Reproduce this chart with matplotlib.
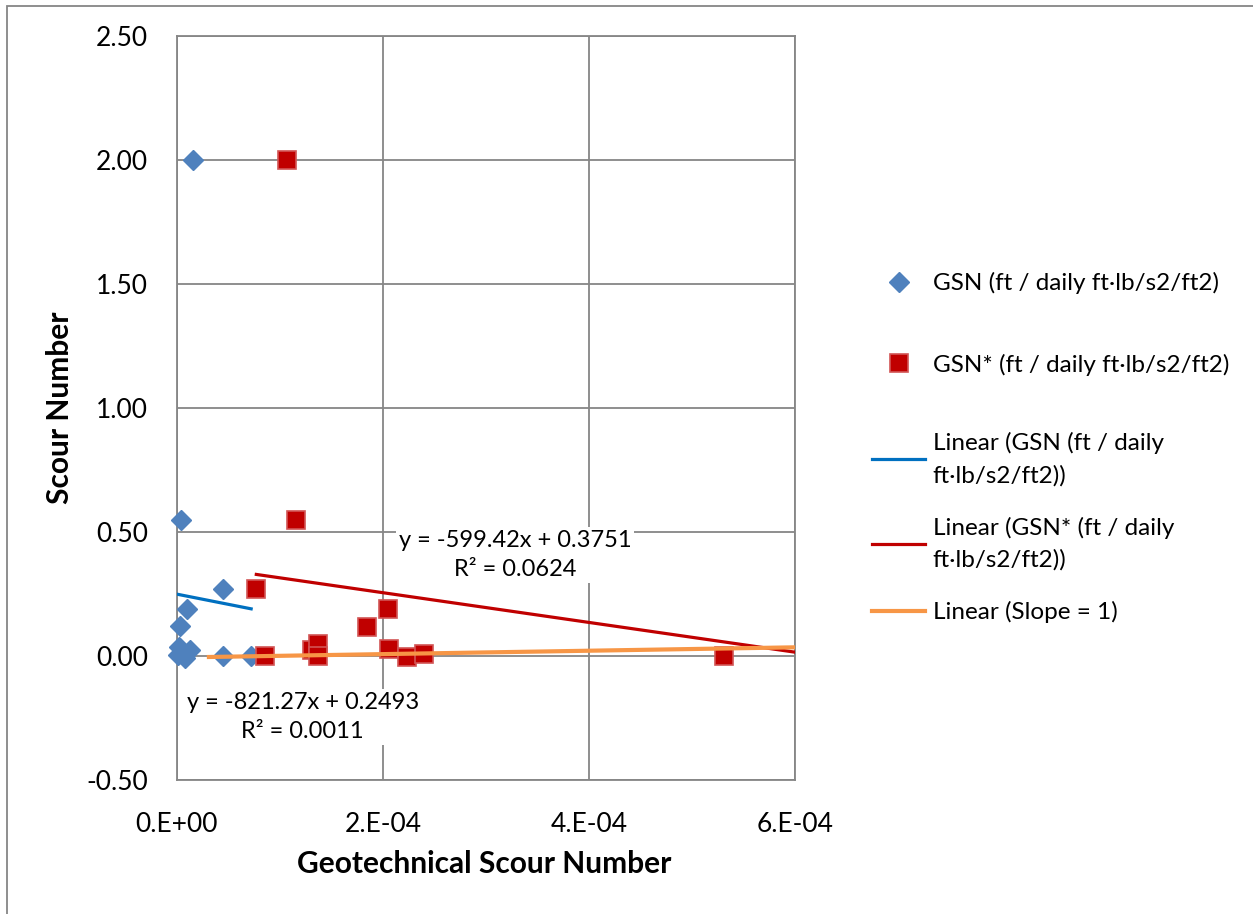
import numpy as np
import matplotlib
matplotlib.use("Agg")
import matplotlib.pyplot as plt
from matplotlib.ticker import FuncFormatter, MultipleLocator
from matplotlib.patches import Rectangle

plt.rcParams["font.family"] = ["Lato", "DejaVu Sans"]

# GSN series (blue diamonds)
gsn_x = [1.6e-5, 4e-6, 4.5e-5, 1.0e-5, 3e-6, 2e-6, 1.25e-5, 1e-6, 8e-6, 4.5e-5, 7.2e-5]
gsn_y = [2.00, 0.55, 0.27, 0.19, 0.12, 0.036, 0.024, 0.004, -0.008, 0.0, 0.0]

# GSN* series (red squares)
gsns_x = [1.07e-4, 1.155e-4, 7.7e-5, 8.5e-5, 1.31e-4, 1.37e-4, 1.37e-4,
          1.845e-4, 2.05e-4, 2.06e-4, 2.23e-4, 2.40e-4, 5.31e-4]
gsns_y = [2.00, 0.55, 0.27, 0.0, 0.024, 0.05, 0.0,
          0.117, 0.19, 0.03, -0.004, 0.01, 0.0]

# trendlines as shown on the chart
gsn_fit = (-821.27, 0.2493, 0.0011)
gsns_fit = (-599.42, 0.3751, 0.0624)
gsns_fit_xmax = 6.0e-4
slope_x = [3.1e-5, 6.0e-4]
slope_y = [-0.004, 0.035]

x_ticks = [0, 2e-4, 4e-4, 6e-4]

W, H = 1253, 914
fig = plt.figure(figsize=(W / 100, H / 100), dpi=100)
ax = fig.add_axes([177 / W, 1 - 780 / H, (795 - 177) / W, (780 - 36) / H])

fs = 17.5
grey = "#868686"

ax.plot(gsn_x, gsn_y, "D", color="#4F81BD", ms=10.5, mec="#4F81BD",
        label="GSN (ft / daily ft\u00b7lb/s2/ft2)", zorder=4, clip_on=False)
ax.plot(gsns_x, gsns_y, "s", color="#C00000", ms=13.5, mec="#D25555", mew=1.2,
        label="GSN* (ft / daily ft\u00b7lb/s2/ft2)", zorder=4, clip_on=False)

xb = np.array([min(gsn_x), max(gsn_x)])
ax.plot(xb, gsn_fit[0] * xb + gsn_fit[1], color="#0070C0", lw=2.3, zorder=5,
        label="Linear (GSN (ft / daily\nft\u00b7lb/s2/ft2))")
xr = np.array([min(gsns_x), gsns_fit_xmax])
ax.plot(xr, gsns_fit[0] * xr + gsns_fit[1], color="#C00000", lw=2.3, zorder=5,
        label="Linear (GSN* (ft / daily\nft\u00b7lb/s2/ft2))")
ax.plot(slope_x, slope_y, color="#F79646", lw=3, zorder=5,
        label="Linear (Slope = 1)")

ax.set_xlim(0, 6e-4)
ax.set_ylim(-0.5, 2.5)
ax.set_xticks(x_ticks)
ax.yaxis.set_major_locator(MultipleLocator(0.5))
ax.xaxis.set_major_formatter(FuncFormatter(lambda v, p: ("%.0E" % v).replace("E", ".E")))
ax.yaxis.set_major_formatter(FuncFormatter(lambda v, p: "%.2f" % v))
ax.tick_params(length=0, labelsize=19)
ax.tick_params(axis="y", pad=21)
ax.tick_params(axis="x", pad=23)
ax.grid(True, color=grey, lw=1.3)
ax.set_axisbelow(True)
for s in ax.spines.values():
    s.set_color(grey)
    s.set_linewidth(1.3)

ax.set_xlabel("Geotechnical Scour Number", fontsize=21.5, fontweight="bold", va="center")
ax.set_ylabel("Scour Number", fontsize=21.5, fontweight="bold", va="center")
ax.xaxis.set_label_coords((484 - 177) / 618, (780 - 864) / 744)
ax.yaxis.set_label_coords((60 - 177) / 618, (780 - 408) / 744)

box = dict(facecolor="white", edgecolor="none", pad=2)
ax.text(1.22e-4, -0.246, "y = %.2fx + %.4f\nR\u00b2 = %.4f" % gsn_fit, fontsize=17,
        ha="center", va="center", multialignment="center", linespacing=1.5,
        bbox=box, zorder=6)
ax.text(3.28e-4, 0.408, "y = %.2fx + %.4f\nR\u00b2 = %.4f" % gsns_fit, fontsize=17,
        ha="center", va="center", multialignment="center", linespacing=1.5,
        bbox=box, zorder=6)

handles, labels = ax.get_legend_handles_labels()
common = dict(loc="upper left", frameon=False, fontsize=fs, borderpad=0,
              borderaxespad=0, handlelength=2.2, handletextpad=0.3,
              bbox_transform=fig.transFigure)
fig.legend(handles[:2], labels[:2], bbox_to_anchor=(872 / W, 1 - 272 / H),
           labelspacing=2.45, **common)
leg2 = fig.legend(handles[2:], labels[2:], bbox_to_anchor=(872 / W, 1 - 432 / H),
                  labelspacing=1.25, **common)
for t in leg2.get_texts():
    t.set_linespacing(1.6)

fig.add_artist(Rectangle((7 / W, -0.1), 1.2, 1.1 - 6 / H, transform=fig.transFigure,
                         fill=False, edgecolor=grey, lw=1.3, clip_on=False))

fig.savefig("out.png", dpi=100, facecolor="white")
